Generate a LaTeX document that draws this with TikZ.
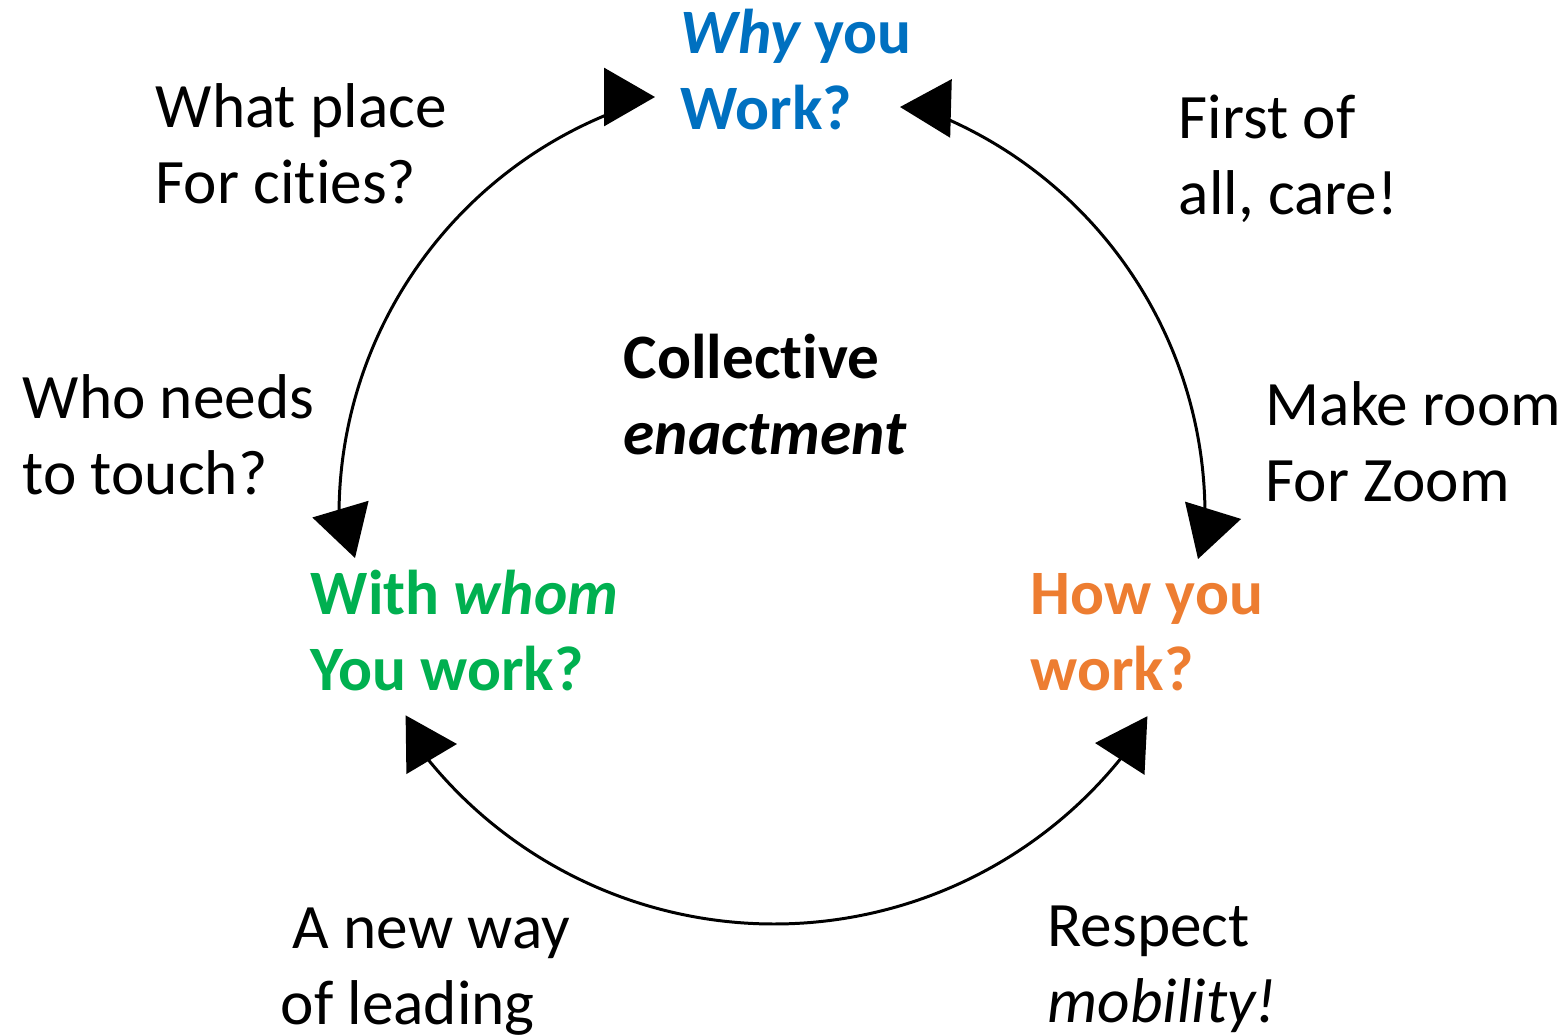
\documentclass[tikz,border=0pt]{standalone}
\usepackage{fontspec}
\setmainfont{Carlito}[Ligatures=NoCommon]
\usepackage{xcolor}
\usetikzlibrary{arrows.meta}
\definecolor{qblue}{HTML}{0070C0}
\definecolor{qgreen}{HTML}{00B050}
\definecolor{qorange}{HTML}{ED7D31}

\begin{document}
\begin{tikzpicture}[
  lbl/.style={anchor=base west, align=left, inner sep=0pt, font=\fontsize{18}{21.5}\selectfont},
  qst/.style={lbl, font=\fontsize{18}{21.5}\selectfont\bfseries, text=#1},
  cyc/.style={line width=0.85pt, line join=round, >={Triangle[length=5.1mm,width=5.8mm]}, <->}
]
\useasboundingbox (0,0) rectangle (15.65,10.35);

% the questions (placed at the baseline of their last line)
\node[qst=qblue] (why) at (6.80,9.06) {{\itshape Why} you\\Work?};
\node[qst=qgreen] (whom) at (3.10,3.45) {With {\itshape whom}\\You work?};
\node[qst=qorange] (how) at (10.30,3.45) {How you\\work?};
\node[qst=black] (coll) at (6.23,5.81) {Collective\\{\itshape enactment}};

% side remarks
\node[lbl] (place) at (1.55,8.32) {What place\\For cities?};
\node[lbl] (care) at (11.78,8.21) {First of\\all, care!};
\node[lbl] (touch) at (0.22,5.41) {Who needs\\to touch?};
\node[lbl] (zoom) at (12.65,5.34) {Make room\\For Zoom};
\node[lbl] (lead) at (2.80,0.11) {\hspace*{1.2mm}A new way\\of leading};
\node[lbl] (mob) at (10.47,0.13) {Respect\\{\itshape mobility!}};

% centres of the arcs
\coordinate (c1) at (7.72,5.20);
\coordinate (c2) at (7.74,5.57);

% arrow tips and the points behind them
\coordinate (t1) at (6.55,9.38);   \coordinate (b1) at (6.20,9.38);
\coordinate (t2) at (3.55,4.77);   \coordinate (b2) at (3.449,5.11);
\coordinate (t3) at (9.00,9.28);   \coordinate (b3) at (9.36,9.27);
\coordinate (t4) at (11.98,4.76);  \coordinate (b4) at (12.085,5.10);
\coordinate (t5) at (4.57,2.91);   \coordinate (b5) at (4.20,2.905);
\coordinate (t6) at (10.95,2.92);  \coordinate (b6) at (11.314,2.902);

% the cycle
\draw[cyc] (t2) -- (b2) -- ([shift={(180.5:4.33)}]c1)
  arc[start angle=180.5, end angle=109.1, radius=4.33] -- (b1) -- (t1);
\draw[cyc] (t3) -- (b3) -- ([shift={(67.2:4.33)}]c1)
  arc[start angle=67.2, end angle=-0.66, radius=4.33] -- (b4) -- (t4);
\draw[cyc] (t5) -- (b5) -- ([shift={(218.5:4.46)}]c2)
  arc[start angle=218.5, end angle=321.9, radius=4.46] -- (b6) -- (t6);
\end{tikzpicture}
\end{document}
